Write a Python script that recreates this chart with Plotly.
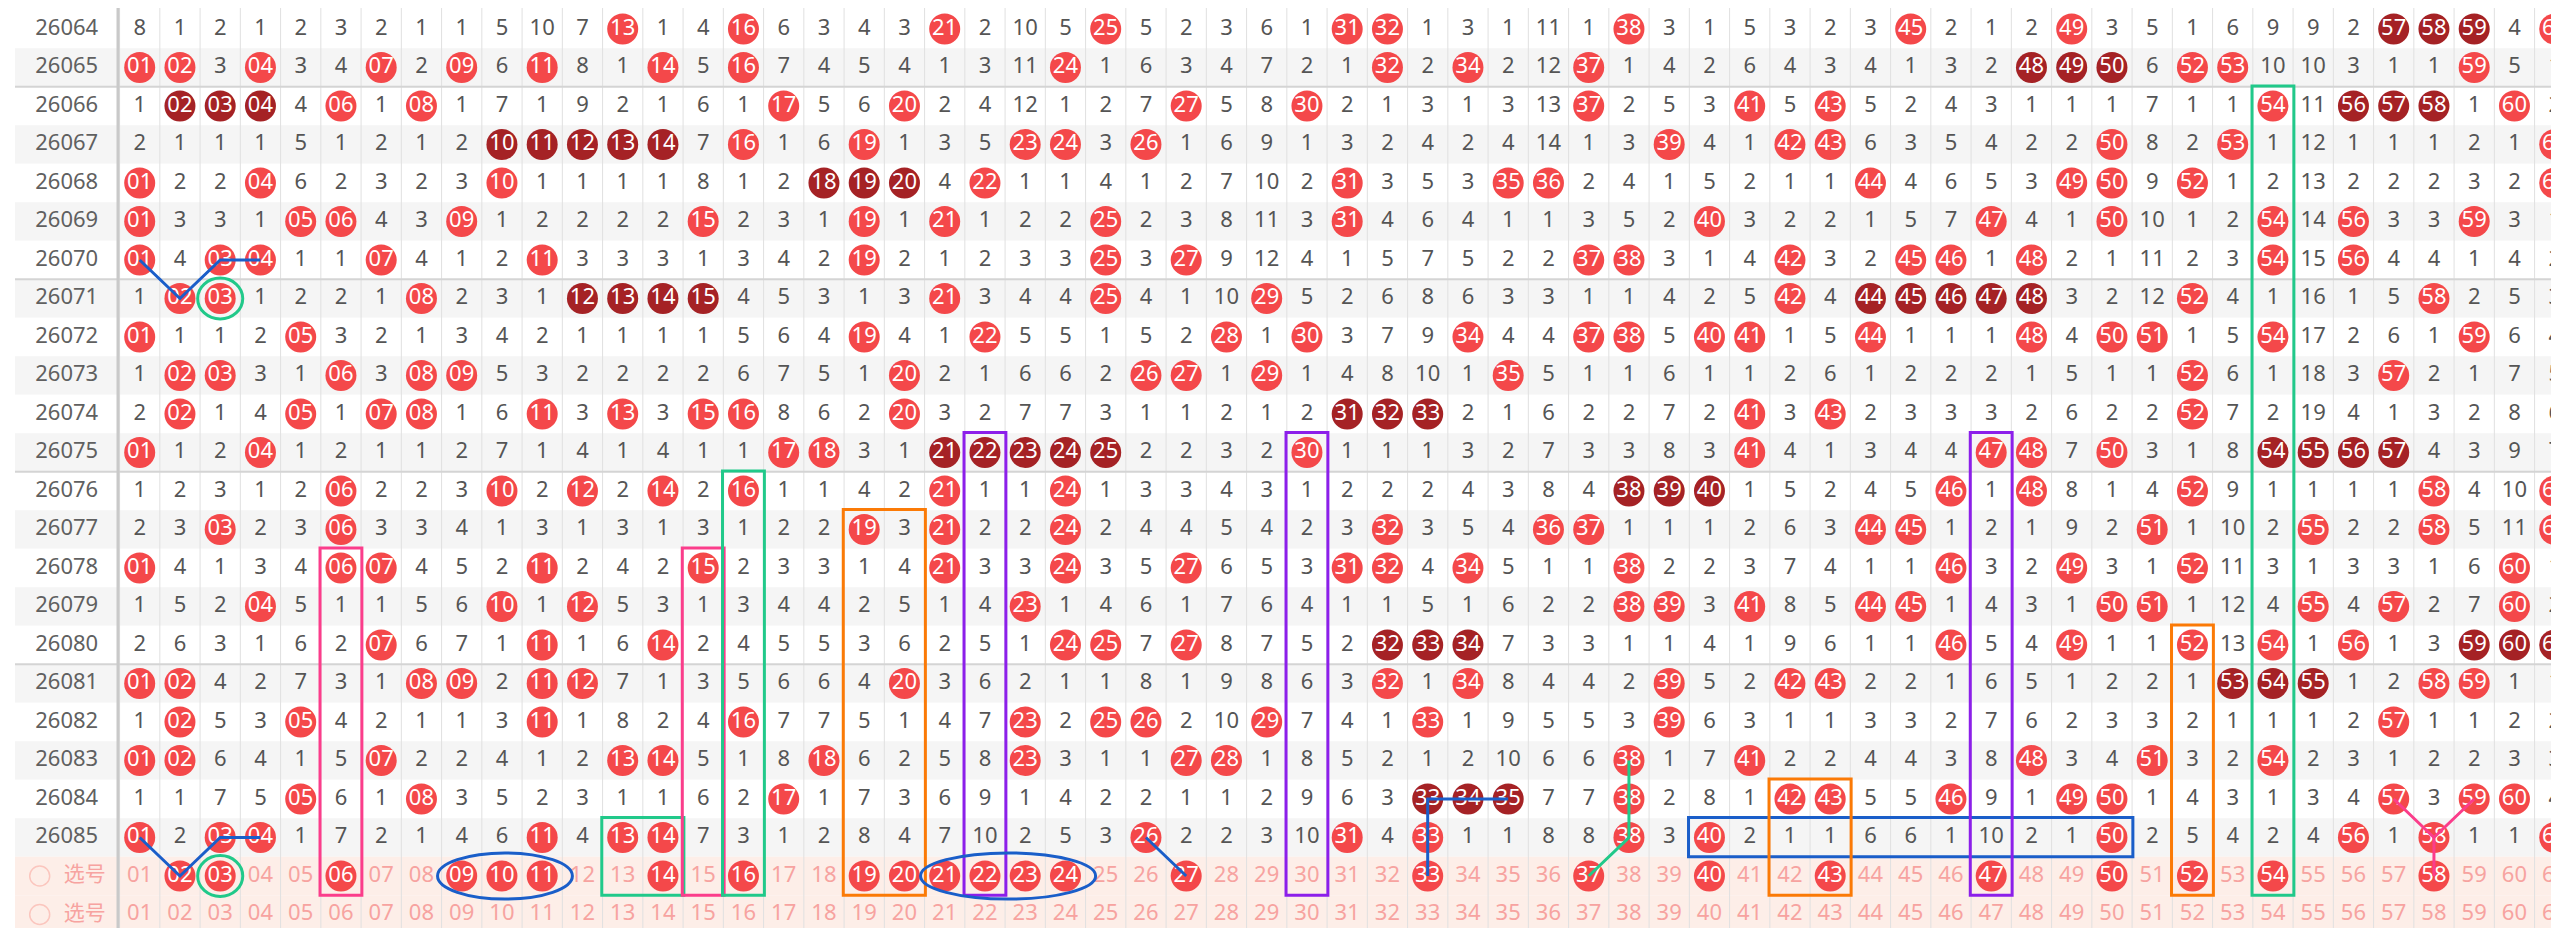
import plotly.graph_objects as go

# ---------------- data ----------------
ISSUES = list(range(26064, 26086))
NUMS = list(range(1, 62))
# omission values per issue row, columns 1..61 ; 0 = number drawn (ball)
R26064 = [8,1,2,1,2,3,2,1, 1,5,10,7,0,1,4,0,6,3,4, 3,0,2,10,5,0,5,2,3,6, 1, 0,0,1,3,1,11,1,0,3,1, 5,3,2,3,0,2,1,2,0,3,5, 1,6,9,9,2,0,0,0,4,0]
R26065 = [0,0,3,0,3,4,0,2, 0,6,0,8,1,0,5,0,7,4,5, 4,1,3,11,0,1,6,3,4,7, 2, 1,0,2,0,2,12,0,1,4,2, 6,4,3,4,1,3,2,0,0,0,6, 0,0,10,10,3,1,1,0,5,1]
R26066 = [1,0,0,0,4,0,1,0, 1,7,1,9,2,1,6,1,0,5,6, 0,2,4,12,1,2,7,0,5,8, 0, 2,1,3,1,3,13,0,2,5,3, 0,5,0,5,2,4,3,1,1,1,7, 1,1,0,11,0,0,0,1,0,2]
R26067 = [2,1,1,1,5,1,2,1, 2,0,0,0,0,0,7,0,1,6,0, 1,3,5,0,0,3,0,1,6,9, 1, 3,2,4,2,4,14,1,3,0,4, 1,0,0,6,3,5,4,2,2,0,8, 2,0,1,12,1,1,1,2,1,0]
R26068 = [0,2,2,0,6,2,3,2, 3,0,1,1,1,1,8,1,2,0,0, 0,4,0,1,1,4,1,2,7,10, 2, 0,3,5,3,0,0,2,4,1,5, 2,1,1,0,4,6,5,3,0,0,9, 0,1,2,13,2,2,2,3,2,0]
R26069 = [0,3,3,1,0,0,4,3, 0,1,2,2,2,2,0,2,3,1,0, 1,0,1,2,2,0,2,3,8,11, 3, 0,4,6,4,1,1,3,5,2,0, 3,2,2,1,5,7,0,4,1,0,10, 1,2,0,14,0,3,3,0,3,1]
R26070 = [0,4,0,0,1,1,0,4, 1,2,0,3,3,3,1,3,4,2,0, 2,1,2,3,3,0,3,0,9,12, 4, 1,5,7,5,2,2,0,0,3,1, 4,0,3,2,0,0,1,0,2,1,11, 2,3,0,15,0,4,4,1,4,2]
R26071 = [1,0,0,1,2,2,1,0, 2,3,1,0,0,0,0,4,5,3,1, 3,0,3,4,4,0,4,1,10,0, 5, 2,6,8,6,3,3,1,1,4,2, 5,0,4,0,0,0,0,0,3,2,12, 0,4,1,16,1,5,0,2,5,3]
R26072 = [0,1,1,2,0,3,2,1, 3,4,2,1,1,1,1,5,6,4,0, 4,1,0,5,5,1,5,2,0,1, 0, 3,7,9,0,4,4,0,0,5,0, 0,1,5,0,1,1,1,0,4,0,0, 1,5,0,17,2,6,1,0,6,4]
R26073 = [1,0,0,3,1,0,3,0, 0,5,3,2,2,2,2,6,7,5,1, 0,2,1,6,6,2,0,0,1,0, 1, 4,8,10,1,0,5,1,1,6,1, 1,2,6,1,2,2,2,1,5,1,1, 0,6,1,18,3,0,2,1,7,5]
R26074 = [2,0,1,4,0,1,0,0, 1,6,0,3,0,3,0,0,8,6,2, 0,3,2,7,7,3,1,1,2,1, 2, 0,0,0,2,1,6,2,2,7,2, 0,3,0,2,3,3,3,2,6,2,2, 0,7,2,19,4,1,3,2,8,6]
R26075 = [0,1,2,0,1,2,1,1, 2,7,1,4,1,4,1,1,0,0,3, 1,0,0,0,0,0,2,2,3,2, 0, 1,1,1,3,2,7,3,3,8,3, 0,4,1,3,4,4,0,0,7,0,3, 1,8,0,0,0,0,4,3,9,7]
R26076 = [1,2,3,1,2,0,2,2, 3,0,2,0,2,0,2,0,1,1,4, 2,0,1,1,0,1,3,3,4,3, 1, 2,2,2,4,3,8,4,0,0,0, 1,5,2,4,5,0,1,0,8,1,4, 0,9,1,1,1,1,0,4,10,0]
R26077 = [2,3,0,2,3,0,3,3, 4,1,3,1,3,1,3,1,2,2,0, 3,0,2,2,0,2,4,4,5,4, 2, 3,0,3,5,4,0,0,1,1,1, 2,6,3,0,0,1,2,1,9,2,0, 1,10,2,0,2,2,0,5,11,0]
R26078 = [0,4,1,3,4,0,0,4, 5,2,0,2,4,2,0,2,3,3,1, 4,0,3,3,0,3,5,0,6,5, 3, 0,0,4,0,5,1,1,0,2,2, 3,7,4,1,1,0,3,2,0,3,1, 0,11,3,1,3,3,1,6,0,1]
R26079 = [1,5,2,0,5,1,1,5, 6,0,1,0,5,3,1,3,4,4,2, 5,1,4,0,1,4,6,1,7,6, 4, 1,1,5,1,6,2,2,0,0,3, 0,8,5,0,0,1,4,3,1,0,0, 1,12,4,0,4,0,2,7,0,2]
R26080 = [2,6,3,1,6,2,0,6, 7,1,0,1,6,0,2,4,5,5,3, 6,2,5,1,0,0,7,0,8,7, 5, 2,0,0,0,7,3,3,1,1,4, 1,9,6,1,1,0,5,4,0,1,1, 0,13,0,1,0,1,3,0,0,0]
R26081 = [0,0,4,2,7,3,1,0, 0,2,0,0,7,1,3,5,6,6,4, 0,3,6,2,1,1,8,1,9,8, 6, 3,0,1,0,8,4,4,2,0,5, 2,0,0,2,2,1,6,5,1,2,2, 1,0,0,0,1,2,0,0,1,1]
R26082 = [1,0,5,3,0,4,2,1, 1,3,0,1,8,2,4,0,7,7,5, 1,4,7,0,2,0,0,2,10,0, 7, 4,1,0,1,9,5,5,3,0,6, 3,1,1,3,3,2,7,6,2,3,3, 2,1,1,1,2,0,1,1,2,2]
R26083 = [0,0,6,4,1,5,0,2, 2,4,1,2,0,0,5,1,8,0,6, 2,5,8,0,3,1,1,0,0,1, 8, 5,2,1,2,10,6,6,0,1,7, 0,2,2,4,4,3,8,0,3,4,0, 3,2,0,2,3,1,2,2,3,3]
R26084 = [1,1,7,5,0,6,1,0, 3,5,2,3,1,1,6,2,0,1,7, 3,6,9,1,4,2,2,1,1,2, 9, 6,3,0,0,0,7,7,0,2,8, 1,0,0,5,5,0,9,1,0,0,1, 4,3,1,3,4,0,3,0,0,4]
R26085 = [0,2,0,0,1,7,2,1, 4,6,0,4,0,0,7,3,1,2,8, 4,7,10,2,5,3,0,2,2,3, 10, 0,4,0,1,1,8,8,0,3,0, 2,1,1,6,6,1,10,2,1,0,2, 5,4,2,4,0,1,0,1,1,0]
MISS = [R26064, R26065, R26066, R26067, R26068, R26069, R26070, R26071, R26072, R26073, R26074,
        R26075, R26076, R26077, R26078, R26079, R26080, R26081, R26082, R26083, R26084, R26085]
SELECTED = [2, 3, 6, 9, 10, 11, 14, 16, 19, 20, 21, 22, 23, 24, 27, 33, 37, 40, 43, 47, 50, 52, 54, 58]
SEL_LABEL = "选号"

# overlay markup (colour, from number, to number, from row, to row) ; rows: issue or 'S' (选号 row)
BOXES = [("pink", 6, 6, 26078, "S"), ("green", 13, 14, 26085, "S"), ("pink", 15, 15, 26078, "S"),
         ("green", 16, 16, 26076, "S"), ("orange", 19, 20, 26077, "S"), ("purple", 22, 22, 26075, "S"),
         ("purple", 30, 30, 26075, "S"), ("blue", 40, 50, 26085, 26085), ("orange", 42, 43, 26084, "S"),
         ("purple", 47, 47, 26075, "S"), ("orange", 52, 52, 26080, "S"), ("green", 54, 54, 26066, "S")]
RINGS = [("blue", 9, 11, "S"), ("blue", 21, 24, "S"), ("green", 3, 3, 26071), ("green", 3, 3, "S")]
PATHS = [("blue", [(1, 26070), (2, 26071), (3, 26070), (4, 26070)]),
         ("blue", [(1, 26085), (2, "S"), (3, 26085), (4, 26085)]),
         ("blue", [(26, 26085), (27, "S")]),
         ("blue", [(33, "S"), (33, 26084), (35, 26084)]),
         ("green", [(37, "S"), (38, 26085), (38, 26083)]),
         ("pink", [(57, 26084), (58, 26085), (59, 26084)]),
         ("pink", [(58, 26085), (58, "S")])]

# ---------------- style / geometry ----------------
W, H = 2559, 928
COLW, ROWH = 40.25, 38.5
X1PX, Y0PX = 131.7, 21.0
PAL = {"blue": "#1a5ec9", "green": "#21c98a", "pink": "#fb3d8b", "orange": "#fb7a06", "purple": "#8c1fea"}
RED, DARK = "#f4484a", "#a52225"
GRAY_TXT, PINK_TXT = "#555555", "#f7a3a0"
FONT = "Noto Sans, Noto Sans CJK SC, sans-serif"


def px2x(p):
    return 1 + (p - X1PX) / COLW


def rowidx(r):
    if r == "S":
        return len(ISSUES)
    return ISSUES.index(r)


NROWS = len(ISSUES) + 2
x_left = px2x(7)

shapes = []
# row backgrounds
for i in range(NROWS):
    if i >= len(ISSUES):
        fill = "#fdeee8"
    else:
        fill = "#ffffff" if i % 2 == 0 else "#f5f5f5"
    shapes.append(dict(type="rect", xref="x", yref="y", x0=x_left, x1=62, y0=i - 0.5, y1=i + 0.5,
                       fillcolor=fill, line=dict(width=0), layer="below"))
# vertical grid lines
for k in range(0, 62):
    shapes.append(dict(type="line", xref="x", yref="y", x0=k + 0.5, x1=k + 0.5, y0=-0.6, y1=NROWS,
                       line=dict(color="#e0e0e0", width=1), layer="below"))
# group separators (every 5 issues)
for i, iss in enumerate(ISSUES[:-1]):
    if iss % 5 == 0:
        shapes.append(dict(type="line", xref="x", yref="y", x0=x_left, x1=62, y0=i + 0.5, y1=i + 0.5,
                           line=dict(color="#d4d4d4", width=2), layer="below"))
# label column border
shapes.append(dict(type="line", xref="x", yref="y", x0=px2x(110), x1=px2x(110), y0=-0.6, y1=NROWS,
                   line=dict(color="#c9c9c9", width=3), layer="below"))

# overlay boxes and rings
for col, c0, c1, r0, r1 in BOXES:
    shapes.append(dict(type="rect", xref="x", yref="y", x0=c0 - 0.52, x1=c1 + 0.52,
                       y0=rowidx(r0) - 0.52, y1=rowidx(r1) + 0.5,
                       line=dict(color=PAL[col], width=3), fillcolor="rgba(0,0,0,0)", layer="above"))
for col, c0, c1, r in RINGS:
    ri = rowidx(r)
    if c0 == c1:
        x0, x1, dy = c0 - 0.56, c1 + 0.56, 0.53
    else:
        x0, x1, dy = c0 - 0.6, c1 + 0.75, 0.6
    shapes.append(dict(type="circle", xref="x", yref="y", x0=x0, x1=x1, y0=ri - dy, y1=ri + dy,
                       line=dict(color=PAL[col], width=3), fillcolor="rgba(0,0,0,0)", layer="above"))

fig = go.Figure()

tx, ty, tt = [], [], []
bx, by, bt = [], [], []
dx, dy_, dt = [], [], []
for i, row in enumerate(MISS):
    hits = set(n for n, v in zip(NUMS, row) if v == 0)
    for n, v in zip(NUMS, row):
        if v > 0:
            tx.append(n); ty.append(i); tt.append(str(v))
        else:
            # runs of 3+ consecutive drawn numbers are dark
            run = 1
            k = n - 1
            while k in hits:
                run += 1; k -= 1
            k = n + 1
            while k in hits:
                run += 1; k += 1
            if run >= 3:
                dx.append(n); dy_.append(i); dt.append("%02d" % n)
            else:
                bx.append(n); by.append(i); bt.append("%02d" % n)

srow = len(ISSUES)
px_, py_, pt_ = [], [], []
for n in NUMS:
    if n in SELECTED:
        bx.append(n); by.append(srow); bt.append("%02d" % n)
    else:
        px_.append(n); py_.append(srow); pt_.append("%02d" % n)
    px_.append(n); py_.append(srow + 1); pt_.append("%02d" % n)

fig.add_trace(go.Scatter(x=tx, y=ty, text=tt, mode="text", textposition="middle center",
                         textfont=dict(color=GRAY_TXT, size=22, family=FONT), hoverinfo="skip"))
fig.add_trace(go.Scatter(x=px_, y=py_, text=pt_, mode="text", textposition="middle center",
                         textfont=dict(color=PINK_TXT, size=22, family=FONT), hoverinfo="skip"))
fig.add_trace(go.Scatter(x=bx, y=by, text=bt, mode="markers+text", textposition="middle center",
                         marker=dict(size=31, color=RED, line=dict(width=0)),
                         textfont=dict(color="white", size=22, family=FONT), hoverinfo="skip"))
fig.add_trace(go.Scatter(x=dx, y=dy_, text=dt, mode="markers+text", textposition="middle center",
                         marker=dict(size=31, color=DARK, line=dict(width=0)),
                         textfont=dict(color="white", size=22, family=FONT), hoverinfo="skip"))
# issue labels
fig.add_trace(go.Scatter(x=[px2x(58.7)] * len(ISSUES), y=list(range(len(ISSUES))), text=[str(s) for s in ISSUES],
                         mode="text", textposition="middle center",
                         textfont=dict(color="#606060", size=22, family=FONT), hoverinfo="skip"))
# selection row labels
fig.add_trace(go.Scatter(x=[px2x(31.7)] * 2, y=[srow, srow + 1], mode="markers",
                         marker=dict(symbol="circle-open", size=20, color="#fbc6be", line=dict(width=1.5)),
                         hoverinfo="skip"))
fig.add_trace(go.Scatter(x=[px2x(76.7)] * 2, y=[srow, srow + 1], text=[SEL_LABEL] * 2, mode="text",
                         textposition="middle center",
                         textfont=dict(color=PINK_TXT, size=21, family="Noto Sans CJK SC"), hoverinfo="skip"))
# overlay polylines
for col, pts in PATHS:
    fig.add_trace(go.Scatter(x=[p[0] for p in pts], y=[rowidx(p[1]) for p in pts], mode="lines",
                             line=dict(color=PAL[col], width=3), hoverinfo="skip"))

fig.update_layout(
    width=W, height=H, margin=dict(l=0, r=0, t=0, b=0),
    paper_bgcolor="white", plot_bgcolor="white", showlegend=False,
    xaxis=dict(range=[1 - X1PX / COLW, 1 + (W - X1PX) / COLW], visible=False, fixedrange=True),
    yaxis=dict(range=[(H - Y0PX) / ROWH, -Y0PX / ROWH], visible=False, fixedrange=True),
    shapes=shapes,
)
fig.write_html("out.html", config={"displayModeBar": False})
